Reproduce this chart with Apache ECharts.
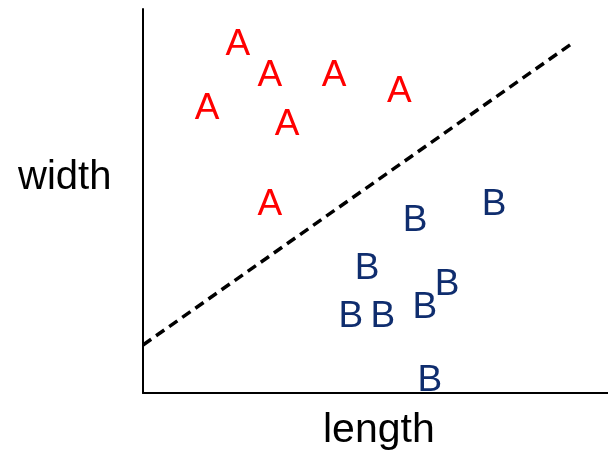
<!DOCTYPE html>
<html>
<head>
<meta charset="utf-8">
<script src="https://cdn.jsdelivr.net/npm/echarts@6/dist/echarts.min.js"></script>
<style>
  html, body { margin: 0; padding: 0; background: #fff; }
  #chart { width: 608px; height: 453px; }
</style>
</head>
<body>
<div id="chart"></div>
<script>
// class A points [length, width]
const classA = [
  [20.4, 91.1],
  [27.3, 83.1],
  [41.1, 83.1],
  [55.1, 78.9],
  [13.8, 74.5],
  [31.0, 70.3],
  [27.3, 49.5]
];
// class B points [length, width]
const classB = [
  [75.5, 49.5],
  [58.5, 45.3],
  [48.2, 32.8],
  [65.4, 28.6],
  [60.6, 22.7],
  [44.7, 20.3],
  [51.6, 20.3],
  [61.7, 3.6]
];
// separating line end points
const boundary = [
  [0, 12.5],
  [92.7, 91.4]
];

const chart = echarts.init(document.getElementById("chart"));

function letterSeries(name, data, color) {
  return {
    name: name,
    type: "scatter",
    data: data,
    symbol: "circle",
    symbolSize: 1,
    itemStyle: { color: "transparent", opacity: 1 },
    label: {
      show: true,
      position: "inside",
      offset: [0, 2],
      formatter: name,
      color: color,
      opacity: 1,
      fontSize: 37,
      fontFamily: "Liberation Sans, Arial, sans-serif"
    },
    silent: true
  };
}

chart.setOption({
  animation: false,
  grid: { left: 143, right: 0, top: 9, bottom: 60 },
  xAxis: {
    type: "value",
    min: 0,
    max: 100,
    axisLine: { show: true, onZero: false, lineStyle: { color: "#000", width: 2 } },
    axisTick: { show: false },
    axisLabel: { show: false },
    splitLine: { show: false }
  },
  yAxis: {
    type: "value",
    min: 0,
    max: 100,
    axisLine: { show: true, onZero: false, lineStyle: { color: "#000", width: 2 } },
    axisTick: { show: false },
    axisLabel: { show: false },
    splitLine: { show: false }
  },
  graphic: [
    {
      type: "text",
      left: 18,
      top: 158,
      style: { text: "width", fontSize: 40, fill: "#000", fontFamily: "Liberation Sans, Arial, sans-serif" }
    },
    {
      type: "text",
      left: 323,
      top: 410,
      style: { text: "length", fontSize: 41, fill: "#000", fontFamily: "Liberation Sans, Arial, sans-serif" }
    }
  ],
  series: [
    {
      type: "line",
      data: boundary,
      symbol: "none",
      silent: true,
      lineStyle: { color: "#000", width: 3.5, type: [10, 6] }
    },
    letterSeries("A", classA, "#ff0000"),
    letterSeries("B", classB, "#0f2d6e")
  ]
});
</script>
</body>
</html>
